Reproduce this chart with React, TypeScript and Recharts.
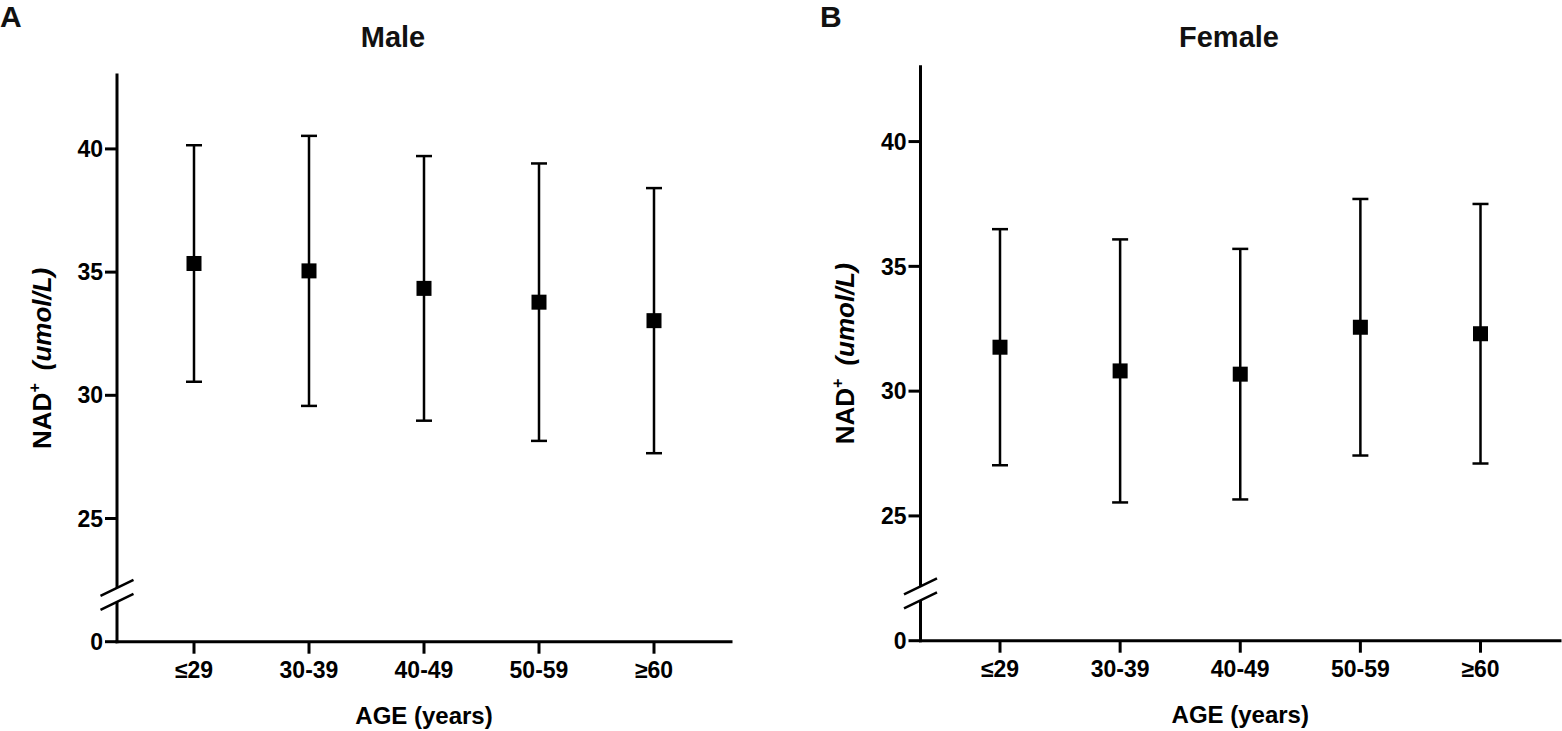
import React from "react";
import { ComposedChart, Scatter, ErrorBar, XAxis, YAxis } from "recharts";

const AGE_GROUPS = ["≤29", "30-39", "40-49", "50-59", "≥60"];
const MALE_MEAN = [35.35, 35.05, 34.34, 33.78, 33.03];
const MALE_SD = [4.8, 5.48, 5.37, 5.63, 5.38];
const FEMALE_MEAN = [31.76, 30.81, 30.68, 32.56, 32.3];
const FEMALE_SD = [4.73, 5.27, 5.02, 5.14, 5.2];

// broken axis: the stub under the break stands for 0, above it the scale runs from 25 up
const Y_ZERO = 20;
const Y_BREAK = 21.9;
const Y_TOP = 43;
const Y_TICKS = [Y_ZERO, Y_BREAK, 25, 30, 35, 40];

const FONT = "'Liberation Sans', Arial, Helvetica, sans-serif";
const INK = "#000";
const TICK_SIZE = 12;
const TICK_MARGIN = 2;
const TICK_FONT = 23;

function YTick(props: any) {
  const { x, y, payload } = props;
  const axisX = x + TICK_SIZE + TICK_MARGIN;
  if (payload.value === Y_BREAK) {
    return (
      <g>
        <rect x={axisX - 3} y={y - 7} width={6} height={14} fill="#fff" />
        <line x1={axisX - 16.5} y1={y + 1} x2={axisX + 16.5} y2={y - 15} stroke={INK} strokeWidth={2.5} />
        <line x1={axisX - 16.5} y1={y + 15} x2={axisX + 16.5} y2={y - 1} stroke={INK} strokeWidth={2.5} />
      </g>
    );
  }
  const label = payload.value === Y_ZERO ? "0" : String(payload.value);
  return (
    <g>
      <line x1={axisX - TICK_SIZE} y1={y} x2={axisX} y2={y} stroke={INK} strokeWidth={3} />
      <text
        x={x}
        y={y}
        dy="0.355em"
        textAnchor="end"
        fontFamily={FONT}
        fontWeight={700}
        fontSize={TICK_FONT}
        fill={INK}
      >
        {label}
      </text>
    </g>
  );
}

function YLabel(props: any) {
  const vb = props.viewBox;
  const bx = vb.x + vb.width - 66;
  const cy = vb.y + vb.height / 2;
  return (
    <text
      x={bx}
      y={cy}
      transform={`rotate(-90 ${bx} ${cy})`}
      textAnchor="middle"
      fontFamily={FONT}
      fontWeight={700}
      fontSize={26}
      fill={INK}
    >
      NAD
      <tspan fontSize={16} dy={-11}>+</tspan>
      <tspan dy={11} dx={13} fontStyle="italic">(umol/L)</tspan>
    </text>
  );
}

function XLabel(props: any) {
  const vb = props.viewBox;
  return (
    <text
      x={vb.x + vb.width / 2}
      y={vb.y + 82}
      textAnchor="middle"
      fontFamily={FONT}
      fontWeight={700}
      fontSize={24}
      fill={INK}
    >
      AGE (years)
    </text>
  );
}

const square = (p: any) => (
  <rect x={p.cx - 7.5} y={p.cy - 7.5} width={15} height={15} fill={INK} />
);

type PanelProps = {
  means: number[];
  sds: number[];
  left: number;
  width: number;
  top: number;
  right: number;
  yAxisWidth: number;
  xAxisHeight: number;
  xPad: number;
};

function Panel({ means, sds, left, width, top, right, yAxisWidth, xAxisHeight, xPad }: PanelProps) {
  const data = AGE_GROUPS.map((age, i) => ({ age, mean: means[i], sd: sds[i] }));
  return (
    <div style={{ position: "absolute", left, top: 0 }}>
      <ComposedChart width={width} height={731} data={data} margin={{ top, right, bottom: 0, left: 0 }}>
        <XAxis
          dataKey="age"
          type="category"
          scale="point"
          padding={{ left: xPad, right: xPad }}
          height={xAxisHeight}
          axisLine={{ stroke: INK, strokeWidth: 3, strokeLinecap: "square" }}
          tickLine={{ stroke: INK, strokeWidth: 3 }}
          tickSize={TICK_SIZE}
          tickMargin={8}
          tick={{ fill: INK, fontSize: TICK_FONT, fontWeight: 700, fontFamily: FONT }}
          interval={0}
          label={{ content: XLabel }}
        />
        <YAxis
          type="number"
          domain={[Y_ZERO, Y_TOP]}
          ticks={Y_TICKS}
          interval={0}
          allowDataOverflow
          width={yAxisWidth}
          axisLine={{ stroke: INK, strokeWidth: 3, strokeLinecap: "square" }}
          tickLine={false}
          tickSize={TICK_SIZE}
          tickMargin={TICK_MARGIN}
          tick={YTick}
          label={{ content: YLabel }}
        />
        <Scatter dataKey="mean" fill={INK} shape={square} isAnimationActive={false}>
          <ErrorBar dataKey="sd" direction="y" width={8} strokeWidth={2.5} stroke={INK} isAnimationActive={false} />
        </Scatter>
      </ComposedChart>
    </div>
  );
}

export default function App() {
  return (
    <div style={{ position: "absolute", left: 0, top: 0, width: 1562, height: 731, background: "#fff" }}>
      <Panel
        means={MALE_MEAN}
        sds={MALE_SD}
        left={0}
        width={780}
        top={75}
        right={49}
        yAxisWidth={117}
        xAxisHeight={89.3}
        xPad={77}
      />
      <Panel
        means={FEMALE_MEAN}
        sds={FEMALE_SD}
        left={800}
        width={762}
        top={66.7}
        right={2}
        yAxisWidth={120.5}
        xAxisHeight={90.3}
        xPad={79.5}
      />
      <svg width={1562} height={731} style={{ position: "absolute", left: 0, top: 0, pointerEvents: "none" }}>
        <g fontFamily={FONT} fontWeight={700} fill="#111">
          <text x={0} y={27} fontSize={30}>A</text>
          <text x={820} y={27} fontSize={30}>B</text>
          <text x={393} y={47} fontSize={29} textAnchor="middle">Male</text>
          <text x={1229} y={47} fontSize={29} textAnchor="middle">Female</text>
        </g>
      </svg>
    </div>
  );
}
